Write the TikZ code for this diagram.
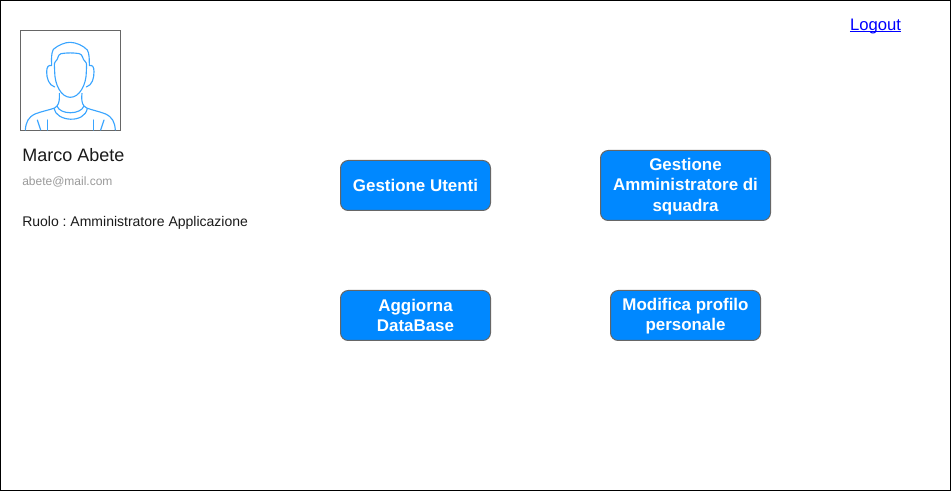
\documentclass[tikz,border=0pt]{standalone}
\usepackage{fontspec}
\setmainfont{Liberation Sans}
\frenchspacing
\definecolor{btn}{HTML}{0088FF}
\definecolor{edge}{HTML}{666666}
\definecolor{face}{HTML}{3AA5FF}
\definecolor{mail}{HTML}{999999}
\definecolor{txt}{HTML}{1A1A1A}
\definecolor{linkc}{HTML}{0000FF}
\newcommand{\lowerfirst}{\rule{0pt}{10.6pt}}
\tikzset{
  btnbox/.style={draw=edge,fill=btn,rounded corners=5.8pt,line width=0.75pt,minimum width=112.5pt,minimum height=37.5pt,inner sep=0pt,align=center,text=white,font=\fontsize{12.7}{15}\selectfont\bfseries},
  lbl/.style={anchor=base west,inner sep=0pt},
  faceline/.style={draw=face,line width=0.85pt,line cap=round,line join=round}
}
\begin{document}
\begin{tikzpicture}[x=0.75pt,y=-0.75pt]
\useasboundingbox (0,0) rectangle (951,491);
\draw[black,line width=0.75pt] (0.5,0.5) rectangle (950.5,490.5);
% avatar
\node[draw=edge,line width=0.6pt,minimum width=75pt,minimum height=75pt,inner sep=0pt] (photo) at (70.5,80.5) {};
\begin{scope}[shift={(10,20)},x=0.25pt,y=-0.25pt]
\draw[faceline] (134,155) .. controls (134,140) and (131,130) .. (136,125) .. controls (146,118) and (142,104) .. (153,101) .. controls (170,98) and (192,98) .. (208,101) .. controls (220,104) and (216,118) .. (226,125) .. controls (232,130) and (229,140) .. (229,155) .. controls (229,195) and (208,232) .. (181,232) .. controls (154,232) and (134,195) .. (134,155);
\draw[faceline] (125,135) .. controls (124,115) and (124,100) .. (130,88) .. controls (145,75) and (165,67) .. (180,67) .. controls (198,67) and (220,77) .. (232,90) .. controls (238,100) and (238,118) .. (238,135);
\draw[faceline] (125,137) .. controls (116,134) and (110,140) .. (110,155) .. controls (110,175) and (116,195) .. (134,201);
\draw[faceline] (238,137) .. controls (247,134) and (252,140) .. (252,155) .. controls (252,175) and (247,195) .. (229,201);
\draw[faceline] (148,220) .. controls (149,235) and (148,250) .. (141,258) .. controls (150,285) and (212,285) .. (222,258) .. controls (215,250) and (214,235) .. (216,220);
\draw[faceline] (132,265) .. controls (138,305) and (224,312) .. (232,265);
\draw[faceline] (46,330) .. controls (48,305) and (55,292) .. (75,282) .. controls (95,274) and (118,270) .. (134,264) -- (141,258);
\draw[faceline] (316,330) .. controls (314,305) and (307,292) .. (287,282) .. controls (267,274) and (245,270) .. (230,264) -- (222,258);
\draw[faceline] (82,300) -- (92,330);
\draw[faceline] (112,300) -- (112,330);
\draw[faceline] (250,300) -- (250,330);
\draw[faceline] (282,300) -- (272,330);
\end{scope}
% labels
\node[lbl,text=txt,font=\fontsize{13.5}{16}\selectfont] (name) at (22,162) {Marco Abete};
\node[lbl,text=mail,font=\fontsize{9}{11}\selectfont] (mail) at (22,185.5) {abete@mail.com};
\node[lbl,text=txt,font=\fontsize{10.5}{12}\selectfont] (role) at (22,226.5) {Ruolo : Amministratore Applicazione};
\node[anchor=base,inner sep=0pt,text=linkc,font=\fontsize{12.5}{14}\selectfont] (logout) at (875.5,31) {Logout};
\draw[linkc,line width=0.75pt] ([yshift=-0.7pt]logout.base west) -- ([yshift=-0.7pt]logout.base east);
% buttons
\node[btnbox] (b1) at (415.5,185.5) {Gestione Utenti};
\node[btnbox,minimum width=127.5pt,minimum height=52.5pt] (b2) at (685.5,185.5) {\lowerfirst Gestione\\Amministratore di\\[0.5pt]squadra};
\node[btnbox] (b3) at (415.5,315.5) {Aggiorna\\DataBase};
\node[btnbox] (b4) at (685.5,315.5) {\lowerfirst Modifica profilo\\personale};
\end{tikzpicture}
\end{document}
